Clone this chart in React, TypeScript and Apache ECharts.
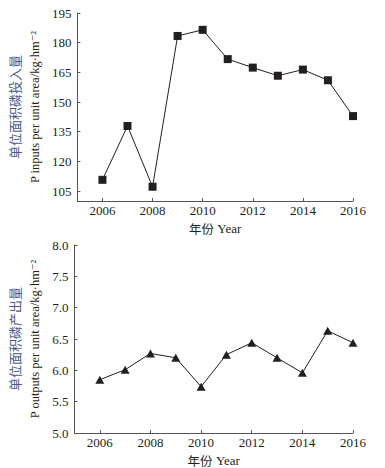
import React, { useEffect, useRef } from "react";
import * as echarts from "echarts";

const years = [2006, 2007, 2008, 2009, 2010, 2011, 2012, 2013, 2014, 2015, 2016];
const inputs = [110.7, 137.9, 107.2, 183.4, 186.5, 171.7, 167.4, 163.3, 166.4, 161.0, 142.9];
const outputs = [5.85, 6.01, 6.27, 6.2, 5.74, 6.25, 6.44, 6.2, 5.96, 6.63, 6.44];
const xTicks = [2006, 2008, 2010, 2012, 2014, 2016];
const inputTicks = [105, 120, 135, 150, 165, 180, 195];

const TEXT = "#231f20";
const AXIS = "#555555";
const CN_COLOR = "#4b5a8c";
const SERIF = "'Liberation Serif', 'DejaVu Serif', serif";
const CJK = "'Noto Sans CJK SC', sans-serif";

const xAxisBase = (gridIndex: number) => ({
  type: "value" as const,
  gridIndex,
  min: 2005,
  max: 2016,
  name: "{cn|年份} {en|Year}",
  nameLocation: "middle" as const,
  nameGap: 20,
  nameTextStyle: {
    lineHeight: 14,
    rich: {
      cn: { fontFamily: CJK, fontSize: 12.5, color: TEXT, lineHeight: 14 },
      en: { fontFamily: SERIF, fontSize: 13, color: TEXT, lineHeight: 14 },
    },
  },
  axisLine: { show: true, lineStyle: { color: AXIS, width: 1 } },
  axisTick: { show: true, inside: true, length: 3, customValues: xTicks, lineStyle: { color: AXIS } },
  axisLabel: {
    customValues: xTicks,
    formatter: (v: number) => String(v),
    color: TEXT,
    fontFamily: SERIF,
    fontSize: 13,
    lineHeight: 13,
    margin: 3,
  },
  splitLine: { show: false },
});

const yName = (cn: string, en: string) => `{cn|${cn}}\n{en|${en}}`;

const yNameStyle = {
  rich: {
    cn: { fontFamily: CJK, fontSize: 13, color: CN_COLOR, lineHeight: 20 },
    en: { fontFamily: SERIF, fontSize: 12.5, color: TEXT, lineHeight: 20 },
  },
};

export default function App() {
  const ref = useRef<HTMLDivElement>(null);
  useEffect(() => {
    if (!ref.current) return;
    const chart = echarts.init(ref.current, undefined, { renderer: "svg" });
    chart.setOption({
      animation: false,
      backgroundColor: "#ffffff",
      grid: [
        { left: 72, top: 13, width: 281, height: 188 },
        { left: 72, top: 245, width: 281, height: 189 },
      ],
      xAxis: [xAxisBase(0), xAxisBase(1)],
      yAxis: [
        {
          type: "value",
          gridIndex: 0,
          min: 100,
          max: 195,
          name: yName("单位面积磷投入量", "P inputs per unit area/kg·hm⁻²"),
          nameLocation: "middle",
          nameGap: 30,
          nameTextStyle: yNameStyle,
          axisLine: { show: true, lineStyle: { color: AXIS, width: 1 } },
          axisTick: { show: true, inside: true, length: 3, customValues: inputTicks, lineStyle: { color: AXIS } },
          axisLabel: {
            customValues: inputTicks,
            color: TEXT,
            fontFamily: SERIF,
            fontSize: 13,
            margin: 6,
          },
          splitLine: { show: false },
        },
        {
          type: "value",
          gridIndex: 1,
          min: 5,
          max: 8,
          interval: 0.5,
          name: yName("单位面积磷产出量", "P outputs per unit area/kg·hm⁻²"),
          nameLocation: "middle",
          nameGap: 30,
          nameTextStyle: yNameStyle,
          axisLine: { show: true, lineStyle: { color: AXIS, width: 1 } },
          axisTick: { show: true, inside: true, length: 3, lineStyle: { color: AXIS } },
          axisLabel: {
            color: TEXT,
            fontFamily: SERIF,
            fontSize: 13,
            margin: 6,
            formatter: (v: number) => v.toFixed(1),
          },
          splitLine: { show: false },
        },
      ],
      series: [
        {
          type: "line",
          xAxisIndex: 0,
          yAxisIndex: 0,
          data: years.map((y, i) => [y, inputs[i]]),
          symbol: "rect",
          symbolSize: 8,
          lineStyle: { color: TEXT, width: 1 },
          itemStyle: { color: TEXT },
        },
        {
          type: "line",
          xAxisIndex: 1,
          yAxisIndex: 1,
          data: years.map((y, i) => [y, outputs[i]]),
          symbol: "triangle",
          symbolSize: [9, 8],
          lineStyle: { color: TEXT, width: 1 },
          itemStyle: { color: TEXT },
        },
      ],
    });
    return () => chart.dispose();
  }, []);
  return (
    <div
      ref={ref}
      style={{ position: "absolute", left: 0, top: 0, width: 385, height: 468 }}
    />
  );
}
